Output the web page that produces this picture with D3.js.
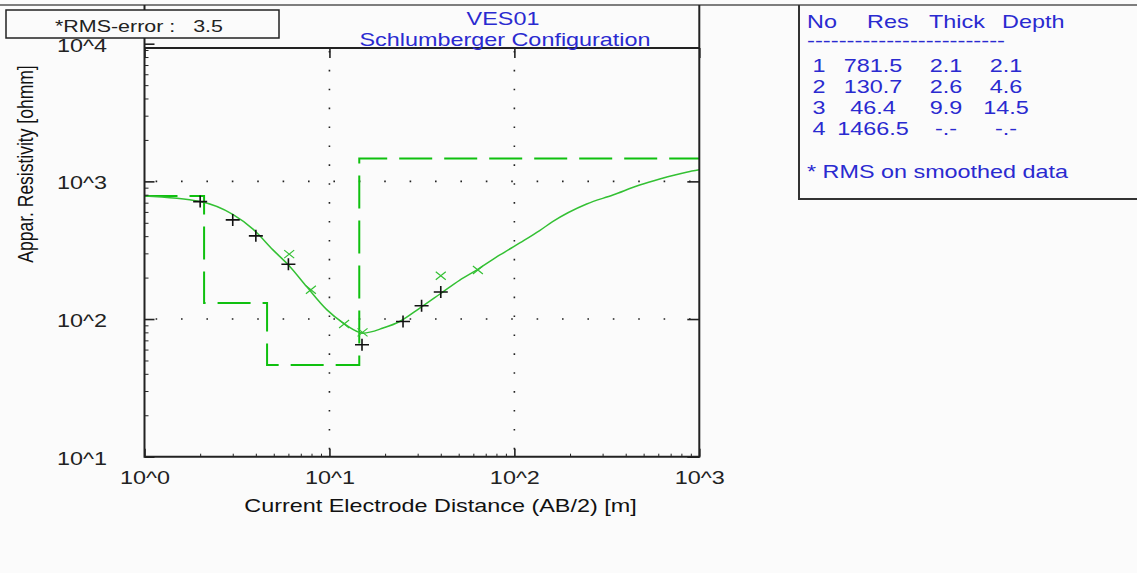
<!DOCTYPE html>
<html>
<head>
<meta charset="utf-8">
<script src="https://cdn.jsdelivr.net/npm/d3@7"></script>
<style>
  html, body { margin: 0; padding: 0; background: #fbfbfb; }
  svg { display: block; font-family: "Liberation Sans", Arial, sans-serif; }
</style>
</head>
<body>
<svg id="chart" width="1137" height="573"></svg>
<script>
var title = "VES01";
var subtitle = "Schlumberger Configuration";
var rmsError = 3.5;
var xLabel = "Current Electrode Distance (AB/2) [m]";
var yLabel = "Appar. Resistivity [ohmm]";

var xTicks = [1, 10, 100, 1000];
var xTickLabels = ["10^0", "10^1", "10^2", "10^3"];
var yTicks = [10, 100, 1000, 10000];
var yTickLabels = ["10^1", "10^2", "10^3", "10^4"];

// layer model (table)
var layerNo = [1, 2, 3, 4];
var layerRes = [781.5, 130.7, 46.4, 1466.5];
var layerThick = [2.1, 2.6, 9.9, null];
var layerDepth = [2.1, 4.6, 14.5, null];

// model response curve
var curveAB = [1.0, 2.0, 3.0, 3.86, 4.95, 6.12, 7.53, 9.67, 11.8, 14.5, 15.2, 19.5, 24, 30.8, 39.6, 50.7, 62.5, 83.5, 107, 137, 161, 246, 341, 476, 611, 852, 1000];
var curveRho = [783, 713, 575, 450, 318, 240, 172, 117, 94, 80, 79, 86, 96, 120, 152, 192, 227, 292, 357, 439, 510, 685, 796, 941, 1041, 1166, 1213];

// field data (+) and smoothed data (x)
var fieldAB = [2, 3, 4, 6, 15, 25, 31.5, 40];
var fieldRho = [713, 525, 402, 250, 65, 96, 125, 157];
var smoothAB = [6.06, 7.94, 12, 15.1, 40, 63.5];
var smoothRho = [296, 163, 92, 80, 206, 227];

(function () {
  var W = 1137, H = 573;
  var SX = 1.3; // horizontal stretch of the original text
  var blue = "#2a2ad0";
  var green = "#0fc00f";
  var curveGreen = "#33c033";
  var ink = "#222";

  var left = 144.5, right = 699.3, top = 48, bottom = 456.7, frameTop = 5;

  var svg = d3.select("#chart");
  svg.append("rect").attr("width", W).attr("height", H).attr("fill", "#fbfbfb");

  var x = d3.scaleLog().domain([1, 1000]).range([left, right]);
  var y = d3.scaleLog().domain([10, 10000]).range([bottom, 43.7]);

  function label(parent, str, px, py, opts) {
    opts = opts || {};
    var t = parent.append("text")
      .attr("transform", "translate(" + px + "," + py + ") scale(" + SX + ",1)" + (opts.rotate ? " rotate(" + opts.rotate + ")" : ""))
      .attr("text-anchor", opts.anchor || "start")
      .attr("font-size", opts.size || 18)
      .attr("fill", opts.color || ink)
      .style("white-space", "pre")
      .text(str);
    if (opts.width) {
      t.attr("textLength", opts.width / SX).attr("lengthAdjust", "spacingAndGlyphs");
    }
    return t;
  }

  // dotted grid
  var grid = svg.append("g");
  grid.selectAll("line.h").data([100, 1000]).enter().append("line")
    .attr("x1", left).attr("x2", right)
    .attr("y1", function(d) { return y(d); }).attr("y2", function(d) { return y(d); })
    .attr("stroke", ink).attr("stroke-width", 1.6)
    .attr("stroke-dasharray", "1.6,23.8").attr("stroke-dashoffset", 14.3);
  grid.selectAll("line.v").data([10, 100]).enter().append("line")
    .attr("y1", top).attr("y2", bottom)
    .attr("x1", function(d) { return x(d); }).attr("x2", function(d) { return x(d); })
    .attr("stroke", ink).attr("stroke-width", 1.6)
    .attr("stroke-dasharray", "1.6,17.3").attr("stroke-dashoffset", 16);

  // layered model as a stepped dashed line
  var steps = [[1, layerRes[0]]];
  for (var i = 0; i < layerRes.length - 1; i++) {
    steps.push([layerDepth[i], layerRes[i]]);
    steps.push([layerDepth[i], layerRes[i + 1]]);
  }
  steps.push([1000, layerRes[layerRes.length - 1]]);

  var line = d3.line()
    .x(function(d) { return x(d[0]); })
    .y(function(d) { return y(d[1]); });

  svg.append("path")
    .attr("d", line(steps))
    .attr("fill", "none")
    .attr("stroke", green)
    .attr("stroke-width", 2)
    .attr("stroke-dasharray", "33,12");

  // model curve
  var curve = curveAB.map(function(d, i) { return [d, curveRho[i]]; });
  svg.append("path")
    .attr("d", line.curve(d3.curveMonotoneX)(curve))
    .attr("fill", "none")
    .attr("stroke", curveGreen)
    .attr("stroke-width", 1.5);

  // smoothed data (x)
  svg.append("g").selectAll("path")
    .data(smoothAB.map(function(d, i) { return [d, smoothRho[i]]; }))
    .enter().append("path")
      .attr("transform", function(d) { return "translate(" + x(d[0]) + "," + y(d[1]) + ")"; })
      .attr("d", "M-5,-4L5,4M-5,4L5,-4")
      .attr("stroke", curveGreen)
      .attr("stroke-width", 1.2);

  // field data (+)
  svg.append("g").selectAll("path")
    .data(fieldAB.map(function(d, i) { return [d, fieldRho[i]]; }))
    .enter().append("path")
      .attr("transform", function(d) { return "translate(" + x(d[0]) + "," + y(d[1]) + ")"; })
      .attr("d", "M-7,0H7M0,-6V6")
      .attr("stroke", "#111")
      .attr("stroke-width", 1.6);

  // axes
  var minorX = [], minorY = [];
  [1, 10, 100].forEach(function(dec) {
    for (var k = 2; k < 10; k++) minorX.push(k * dec);
  });
  [10, 100, 1000].forEach(function(dec) {
    for (var k = 2; k < 10; k++) minorY.push(k * dec);
  });

  function styleAxis(g, withText) {
    g.attr("font-family", null).attr("font-size", null);
    g.select(".domain").remove();
    g.selectAll(".tick line").attr("stroke", ink);
    if (withText) {
      g.selectAll(".tick text")
        .attr("font-size", 18)
        .attr("fill", ink)
        .attr("transform", "scale(" + SX + ",1)");
    } else {
      g.selectAll(".tick text").remove();
    }
  }

  var gy = svg.append("g").attr("transform", "translate(" + left + ",0)")
    .call(d3.axisLeft(y).tickValues(yTicks).tickSize(-10).tickSizeOuter(0).tickPadding(28.8)
      .tickFormat(function(d, i) { return yTickLabels[i]; }));
  styleAxis(gy, true);
  gy.selectAll(".tick line").attr("stroke-width", 1.6);
  gy.selectAll(".tick text").attr("dy", "0.42em");

  var gym = svg.append("g").attr("transform", "translate(" + left + ",0)")
    .call(d3.axisLeft(y).tickValues(minorY).tickSize(-4).tickSizeOuter(0).tickFormat(""));
  styleAxis(gym, false);

  var gx = svg.append("g").attr("transform", "translate(0," + bottom + ")")
    .call(d3.axisBottom(x).tickValues(xTicks).tickSize(-8).tickSizeOuter(0).tickPadding(14.5)
      .tickFormat(function(d, i) { return xTickLabels[i]; }));
  styleAxis(gx, true);
  gx.selectAll(".tick line").attr("stroke-width", 1.6);

  var gxm = svg.append("g").attr("transform", "translate(0," + bottom + ")")
    .call(d3.axisBottom(x).tickValues(minorX).tickSize(-3).tickSizeOuter(0).tickFormat(""));
  styleAxis(gxm, false);

  var gr = svg.append("g").attr("transform", "translate(" + right + ",0)")
    .call(d3.axisLeft(y).tickValues(yTicks.slice(0, 3)).tickSize(12).tickSizeOuter(0).tickFormat(""));
  styleAxis(gr, false);
  gr.selectAll(".tick line").attr("stroke-width", 1.6);

  var gt = svg.append("g").attr("transform", "translate(0," + top + ")")
    .call(d3.axisBottom(x).tickValues(xTicks).tickSize(10).tickSizeOuter(0).tickFormat(""));
  styleAxis(gt, false);
  gt.selectAll(".tick line").attr("stroke-width", 1.6);

  // frame
  var frame = svg.append("g").attr("fill", "none").attr("stroke", ink).attr("stroke-width", 2);
  frame.append("line").attr("x1", 0).attr("x2", W).attr("y1", frameTop).attr("y2", frameTop)
    .attr("stroke", "#555").attr("stroke-width", 1.5);
  frame.append("path").attr("d", "M" + left + "," + frameTop + "V" + bottom + "H" + right + "V" + frameTop);
  frame.append("line").attr("x1", left).attr("x2", right).attr("y1", top).attr("y2", top);

  // RMS box
  svg.append("rect").attr("x", 6).attr("y", 10).attr("width", 273).attr("height", 28)
    .attr("fill", "#fbfbfb").attr("stroke", ink).attr("stroke-width", 1.5);
  label(svg, "*RMS-error :   " + rmsError, 55, 32, { size: 16.5 });

  // titles
  label(svg, title, 503, 25, { anchor: "middle", color: blue });
  label(svg, subtitle, 505, 45.5, { anchor: "middle", color: blue });

  // axis titles
  label(svg, xLabel, 440.5, 512, { anchor: "middle", color: "#111" });
  svg.append("text")
    .attr("transform", "translate(33,164) scale(" + SX + ",1) rotate(-90)")
    .attr("text-anchor", "middle")
    .attr("font-size", 17.5)
    .attr("fill", "#111")
    .text(yLabel);

  // layer table
  var table = svg.append("g");
  table.append("path").attr("d", "M799," + frameTop + "V199H" + W)
    .attr("fill", "none").attr("stroke", "#333").attr("stroke-width", 2);

  var headers = ["No", "Res", "Thick", "Depth"];
  var headerX = [807, 867, 929, 1002];
  headers.forEach(function(h, i) { label(table, h, headerX[i], 28, { color: blue }); });
  label(table, "-------------------------", 807, 47, { color: blue, width: 198 });

  var colX = [819, 873, 946, 1006];
  function fmt(v) { return v == null ? "-.-" : v.toFixed(1); }
  layerNo.forEach(function(n, i) {
    var rowY = 72 + i * 21;
    var cells = [String(n), fmt(layerRes[i]), fmt(layerThick[i]), fmt(layerDepth[i])];
    cells.forEach(function(c, j) {
      label(table, c, colX[j], rowY, { anchor: "middle", color: blue });
    });
  });
  label(table, "* RMS on smoothed data", 807, 178, { color: blue, width: 261 });
})();
</script>
</body>
</html>
